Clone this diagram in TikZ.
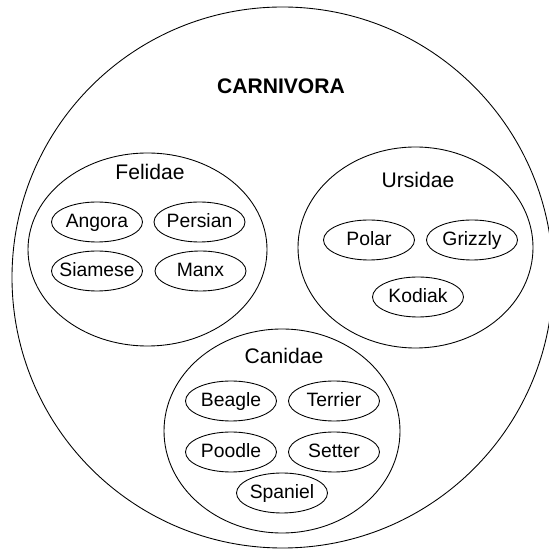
\documentclass[tikz,border=0pt]{standalone}
\usepackage{fontspec}
\setmainfont{Liberation Sans}
\usetikzlibrary{shapes.geometric, positioning}

\tikzset{
    order/.style={draw, circle, line width=0.5pt, minimum size=10.82cm, inner sep=0pt},
    family/.style={draw, ellipse, line width=0.5pt, inner sep=0pt},
    species/.style={draw, ellipse, line width=0.5pt, minimum width=1.82cm, minimum height=0.8cm,
        inner xsep=-6pt, inner ysep=0pt, text height=7.6pt, text depth=1.6pt,
        font=\fontsize{11}{13}\selectfont},
    famlabel/.style={font=\fontsize{12}{14}\selectfont}
}

\begin{document}
\begin{tikzpicture}
        \clip (0,0) rectangle (10.98,11.0);

        % Order
        \node[order] (C) at (5.65,5.45) {};
        \node[font=\fontsize{12}{14}\selectfont\bfseries] (Ctext) at (5.62,9.28) {CARNIVORA};

        % Families
        \node[family, minimum width=4.78cm, minimum height=3.86cm] (F) at (2.95,6.01) {};
        \node[family, minimum width=4.70cm, minimum height=4.02cm] (U) at (8.31,6.05) {};
        \node[family, minimum width=4.72cm, minimum height=4.08cm] (D) at (5.64,2.38) {};

        \node[famlabel] (Ftext) at (3.0,7.56) {Felidae};
        \node[famlabel] (Utext) at (8.36,7.40) {Ursidae};
        \node[famlabel] (Dtext) at (5.68,3.88) {Canidae};

        % Felidae
        \node[species] (F1) at (1.94,6.56) {Angora};
        \node[species] (F2) at (3.99,6.56) {Persian};
        \node[species] (F3) at (1.94,5.58) {Siamese};
        \node[species] (F4) at (4.01,5.58) {Manx};

        % Ursidae
        \node[species] (U1) at (7.38,6.20) {Polar};
        \node[species] (U2) at (9.44,6.20) {Grizzly};
        \node[species] (U3) at (8.36,5.06) {Kodiak};

        % Canidae
        \node[species] (D1) at (4.62,2.98) {Beagle};
        \node[species] (D2) at (6.68,2.98) {Terrier};
        \node[species] (D3) at (4.62,1.96) {Poodle};
        \node[species] (D4) at (6.68,1.96) {Setter};
        \node[species] (D5) at (5.64,1.14) {Spaniel};
    \end{tikzpicture}
\end{document}
